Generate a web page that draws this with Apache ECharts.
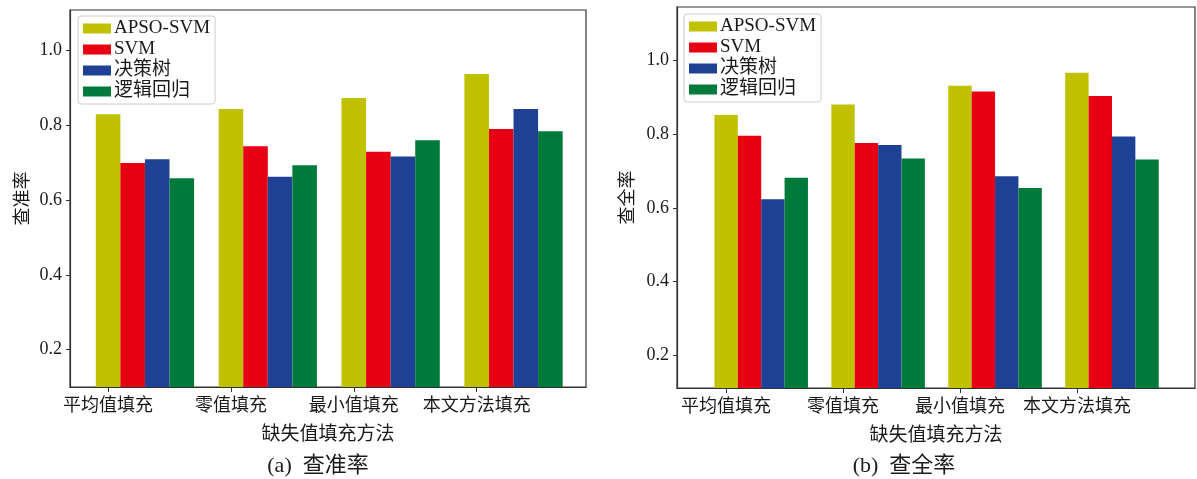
<!DOCTYPE html>
<html>
<head>
<meta charset="utf-8">
<script src="https://cdn.jsdelivr.net/npm/echarts@6/dist/echarts.min.js"></script>
<style>
  html, body { margin: 0; padding: 0; background: #fff; }
  #chart { width: 1197px; height: 479px; }
</style>
</head>
<body>
<div id="chart"></div>
<script>
// Filling methods (x categories) and classifiers (series)
const categories = ['平均值填充', '零值填充', '最小值填充', '本文方法填充'];
const seriesNames = ['APSO-SVM', 'SVM', '决策树', '逻辑回归'];
const seriesColors = ['#C0C100', '#E60012', '#1E4196', '#007A3A'];

// (a) precision
const precisionApsoSvm = [0.829, 0.843, 0.873, 0.937];
const precisionSvm     = [0.699, 0.744, 0.729, 0.790];
const precisionTree    = [0.709, 0.662, 0.716, 0.843];
const precisionLogReg  = [0.658, 0.693, 0.760, 0.784];

// (b) recall
const recallApsoSvm = [0.852, 0.881, 0.932, 0.967];
const recallSvm     = [0.796, 0.776, 0.916, 0.904];
const recallTree    = [0.623, 0.771, 0.686, 0.794];
const recallLogReg  = [0.682, 0.734, 0.654, 0.731];

const yTickValues = [0.2, 0.4, 0.6, 0.8, 1.0];
const xTickValues = [0, 1, 2, 3];

const FONT = '"Liberation Serif", "Noto Sans CJK SC", serif';
const TEXT = '#1a1a1a';
const FRAME = '#333';
const BAR_STEP = 0.2; // each classifier's bar is shifted by one bar width

const panels = [
  {
    grid: { left: 70, top: 10, width: 516, height: 377 },
    xRange: [-0.31, 3.89], yRange: [0.1, 1.108],
    yName: '查准率', yNameGap: 38,
    caption: '(a)  查准率', captionX: 318,
    values: [precisionApsoSvm, precisionSvm, precisionTree, precisionLogReg],
    legend: { left: 78, top: 16 }
  },
  {
    grid: { left: 677, top: 7, width: 518, height: 381 },
    xRange: [-0.42, 4.01], yRange: [0.11, 1.146],
    yName: '查全率', yNameGap: 40,
    caption: '(b)  查全率', captionX: 904,
    values: [recallApsoSvm, recallSvm, recallTree, recallLogReg],
    legend: { left: 684, top: 14 }
  }
];

const option = {
  animation: false,
  backgroundColor: '#fff',
  textStyle: { fontFamily: FONT, color: TEXT },
  grid: [], xAxis: [], yAxis: [], series: [], legend: [], graphic: []
};

panels.forEach((p, pi) => {
  option.grid.push(Object.assign({
    show: true, borderColor: FRAME, borderWidth: 1.2, backgroundColor: 'transparent'
  }, p.grid));

  option.xAxis.push({
    type: 'value', gridIndex: pi, min: p.xRange[0], max: p.xRange[1],
    name: '缺失值填充方法', nameLocation: 'middle', nameGap: 39,
    nameTextStyle: { fontFamily: FONT, fontSize: 19, color: TEXT },
    axisLine: { show: true, onZero: false, lineStyle: { color: FRAME, width: 1.2 } },
    axisTick: { show: true, length: 5, customValues: xTickValues, lineStyle: { color: FRAME, width: 1 } },
    axisLabel: {
      customValues: xTickValues, margin: 10, fontSize: 18, color: TEXT, fontFamily: FONT,
      formatter: v => categories[Math.round(v)]
    },
    splitLine: { show: false }
  });

  option.yAxis.push({
    type: 'value', gridIndex: pi, min: p.yRange[0], max: p.yRange[1],
    name: p.yName, nameLocation: 'middle', nameGap: p.yNameGap,
    nameTextStyle: { fontFamily: FONT, fontSize: 18, color: TEXT },
    axisLine: { show: true, onZero: false, lineStyle: { color: FRAME, width: 1.2 } },
    axisTick: { show: true, length: 4, customValues: yTickValues, lineStyle: { color: FRAME, width: 1 } },
    axisLabel: {
      customValues: yTickValues, margin: 8, fontSize: 18, color: TEXT, fontFamily: FONT,
      formatter: v => v.toFixed(1)
    },
    splitLine: { show: false }
  });

  const pxPerUnit = p.grid.width / (p.xRange[1] - p.xRange[0]);
  const barWidth = BAR_STEP * pxPerUnit;

  seriesNames.forEach((name, k) => {
    option.series.push({
      type: 'bar', name: name, xAxisIndex: pi, yAxisIndex: pi,
      barWidth: barWidth, barGap: '-100%',
      itemStyle: { color: seriesColors[k] },
      data: p.values[k].map((v, i) => [i + k * BAR_STEP, v])
    });
  });

  option.legend.push({
    orient: 'vertical', left: p.legend.left, top: p.legend.top,
    data: seriesNames, icon: 'rect', itemWidth: 28, itemHeight: 10, itemGap: 2,
    padding: [3, 5, 3, 5], borderColor: '#cccccc', borderWidth: 1, borderRadius: 3,
    backgroundColor: 'rgba(255,255,255,0.8)',
    textStyle: { fontFamily: FONT, fontSize: 19, lineHeight: 19, color: TEXT, padding: [0, 0, 0, -2] }
  });

  option.graphic.push({
    type: 'text', x: p.captionX, y: 466,
    style: { text: p.caption, fontFamily: FONT, fontSize: 22, fill: TEXT, align: 'center', verticalAlign: 'middle' }
  });
});

const chart = echarts.init(document.getElementById('chart'), null, { renderer: 'canvas' });
chart.setOption(option);
</script>
</body>
</html>
